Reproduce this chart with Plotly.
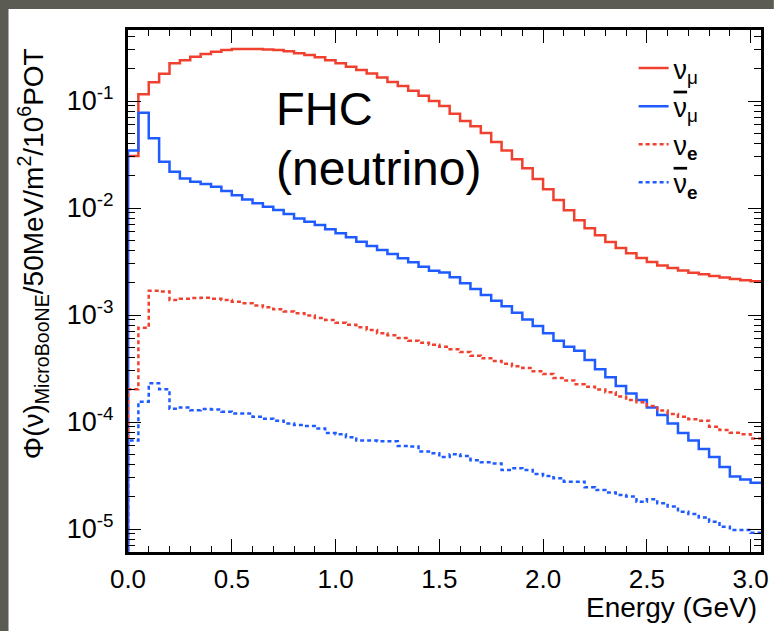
import numpy as np
import plotly.graph_objects as go

# ---- data (50 MeV bins, 0 - 3.05 GeV) ----
bin_width = 0.05
n_bins = 61
edges = [round(i * bin_width, 2) for i in range(n_bins + 1)]

numu = [0.0306, 0.116, 0.150, 0.180, 0.225, 0.241, 0.259, 0.275, 0.289, 0.300,
        0.306, 0.306, 0.306, 0.303, 0.300, 0.292, 0.279, 0.269, 0.256, 0.241,
        0.225, 0.209, 0.195, 0.181, 0.166, 0.151, 0.138, 0.125, 0.112, 0.100,
        0.0898, 0.0761, 0.0650, 0.0580, 0.0502, 0.0414, 0.0345, 0.0285, 0.0235, 0.0187,
        0.0150, 0.0119, 0.00953, 0.00768, 0.00646, 0.00556, 0.00481, 0.00423, 0.00377, 0.00341,
        0.00313, 0.00290, 0.00275, 0.00261, 0.00249, 0.00240, 0.00231, 0.00224, 0.00217, 0.00211,
        0.00207]

numubar = [0.0344, 0.0778, 0.0448, 0.0271, 0.0218, 0.0189, 0.0176, 0.0168, 0.0158, 0.0144,
           0.0132, 0.0120, 0.0111, 0.0103, 0.00958, 0.00879, 0.00800, 0.00745, 0.00693, 0.00632,
           0.00580, 0.00532, 0.00485, 0.00442, 0.00405, 0.00372, 0.00339, 0.00311, 0.00283, 0.00259,
           0.00250, 0.00225, 0.00198, 0.00175, 0.00154, 0.00136, 0.00121, 0.00105, 0.00091, 0.00079,
           0.000674, 0.000575, 0.000506, 0.000464, 0.000380, 0.000311, 0.000262, 0.000217, 0.000185, 0.000161,
           0.000137, 0.000116, 0.000097, 0.000079, 0.000067, 0.000056, 0.000047, 0.000038, 0.000031, 0.000029,
           0.000027]

nue = [0.000202, 0.00076, 0.00169, 0.00166, 0.00138, 0.00142, 0.00144, 0.00145, 0.00142, 0.00138,
       0.00133, 0.00129, 0.00123, 0.00118, 0.00113, 0.00108, 0.00104, 0.00099, 0.00094, 0.000898,
       0.000848, 0.000812, 0.000767, 0.000724, 0.000674, 0.000646, 0.000610, 0.000575, 0.000552, 0.000528,
       0.000506, 0.000479, 0.000451, 0.000417, 0.000394, 0.000372, 0.000351, 0.000332, 0.000320, 0.000298,
       0.000281, 0.000258, 0.000244, 0.000225, 0.000214, 0.000201, 0.000190, 0.000173, 0.000161, 0.000153,
       0.000141, 0.000128, 0.000119, 0.000112, 0.000106, 0.000103, 0.0000905, 0.0000840, 0.0000795, 0.0000770,
       0.0000700]

nuebar = [0.000067, 0.000155, 0.000230, 0.000202, 0.000133, 0.000137, 0.000129, 0.000132, 0.000131, 0.000125,
          0.000120, 0.000120, 0.000112, 0.000107, 0.000103, 0.000097, 0.000094, 0.000092, 0.000087, 0.000079,
          0.000077, 0.000072, 0.000067, 0.000067, 0.000066, 0.000066, 0.0000597, 0.0000590, 0.0000530, 0.0000510,
          0.0000470, 0.0000500, 0.0000480, 0.0000440, 0.0000420, 0.0000410, 0.0000356, 0.0000370, 0.0000356, 0.0000327,
          0.0000313, 0.0000298, 0.0000277, 0.0000277, 0.0000245, 0.0000231, 0.0000219, 0.0000208, 0.0000201, 0.0000180,
          0.0000190, 0.0000174, 0.0000162, 0.0000145, 0.0000138, 0.0000128, 0.0000117, 0.0000105, 0.0000098, 0.0000098,
          0.0000092]

OVER = '<span style="text-decoration:overline">ν</span>'
series_names = ["ν<sub>μ</sub>", OVER + "<sub>μ</sub>", "ν<sub><b>e</b></sub>", OVER + "<sub><b>e</b></sub>"]

y_tick_vals = [1e-5, 1e-4, 1e-3, 1e-2, 1e-1]
y_tick_text = ["10<sup>-5</sup>", "10<sup>-4</sup>", "10<sup>-3</sup>", "10<sup>-2</sup>", "10<sup>-1</sup>"]
x_tick_vals = [0.0, 0.5, 1.0, 1.5, 2.0, 2.5, 3.0]
x_tick_text = ["0.0", "0.5", "1.0", "1.5", "2.0", "2.5", "3.0"]

RED = "#f0402f"
BLUE = "#1f5bff"
GRAY = "#5b5b53"
FONT = "Liberation Sans, Arial, sans-serif"

def step_xy(vals):
    # histogram outline starting from the axis floor at x = 0
    xs = [edges[0]] + edges[:-1] + [edges[-1]]
    ys = [1e-9] + list(vals) + [vals[-1]]
    return xs, ys

fig = go.Figure()
styles = [
    (numu, RED, "solid", 2.5),
    (numubar, BLUE, "solid", 2.5),
    (nue, RED, "4px,3px", 2.5),
    (nuebar, BLUE, "4px,3px", 2.5),
]
for (vals, col, dash, w), name in zip(styles, series_names):
    xs, ys = step_xy(vals)
    fig.add_trace(go.Scatter(x=xs, y=ys, mode="lines", name=name,
                             line=dict(color=col, dash=dash, width=w, shape="hv")))

minor_y = [k * 10.0 ** n for n in range(-6, 0) for k in range(2, 10)]
minor_x = [round(0.1 * i, 1) for i in range(0, 31)]

W, H = 777, 631
L, R, T, B = 128, 8, 30, 79
pw, ph = W - L - R, H - T - B

def px(x):
    return (x - L) / pw

def py(y):
    return 1 - (y - T) / ph

fig.update_layout(
    width=W, height=H,
    margin=dict(l=L, r=R, t=T, b=B, pad=0),
    paper_bgcolor="white",
    plot_bgcolor="white",
    font=dict(family=FONT, color="black", size=26),
    showlegend=True,
    legend=dict(x=px(640), y=py(44), xanchor="left", yanchor="top",
                bgcolor="rgba(0,0,0,0)", font=dict(size=27, family=FONT),
                itemwidth=30, tracegroupgap=0),
    xaxis=dict(range=[0, 3.05], showgrid=False, zeroline=False,
               showline=True, linecolor="black", linewidth=3, mirror="ticks",
               ticks="inside", ticklen=13, tickwidth=1.2, tickcolor="black",
               tickmode="array", tickvals=x_tick_vals, ticktext=x_tick_text,
               tickfont=dict(size=26, family=FONT), ticklabelstandoff=2,
               minor=dict(tickmode="array", tickvals=minor_x, ticks="inside",
                          ticklen=6, tickwidth=1.2, tickcolor="black")),
    yaxis=dict(type="log", range=[-5.215, -0.336], showgrid=False, zeroline=False,
               showline=True, linecolor="black", linewidth=3, mirror="ticks",
               ticks="inside", ticklen=13, tickwidth=1.2, tickcolor="black",
               tickmode="array", tickvals=y_tick_vals, ticktext=y_tick_text,
               tickfont=dict(size=27, family=FONT), ticklabelstandoff=6,
               minor=dict(tickmode="array", tickvals=minor_y, ticks="inside",
                          ticklen=7, tickwidth=1.2, tickcolor="black")),
    shapes=[
        dict(type="rect", xref="paper", yref="paper", layer="above",
             x0=px(-5), x1=px(W + 5), y0=py(9), y1=py(-5),
             fillcolor=GRAY, line=dict(width=0)),
        dict(type="rect", xref="paper", yref="paper", layer="above",
             x0=px(-5), x1=px(7), y0=py(H + 5), y1=py(-5),
             fillcolor=GRAY, line=dict(width=0)),
    ],
    annotations=[
        dict(text="FHC", x=px(276), y=py(109), xref="paper", yref="paper",
             xanchor="left", yanchor="middle", showarrow=False,
             font=dict(size=47, family=FONT)),
        dict(text="(neutrino)", x=px(276), y=py(168), xref="paper", yref="paper",
             xanchor="left", yanchor="middle", showarrow=False,
             font=dict(size=48, family=FONT)),
        dict(text="Φ(ν)<sub>MicroBooNE</sub>/50MeV/m<sup>2</sup>/10<sup>6</sup>POT",
             x=px(32), y=py(254), xref="paper", yref="paper",
             xanchor="center", yanchor="middle", textangle=-90, showarrow=False,
             font=dict(size=28, family=FONT)),
        dict(text="Energy (GeV)", x=px(767), y=py(607), xref="paper", yref="paper",
             xanchor="right", yanchor="middle", showarrow=False,
             font=dict(size=28, family=FONT)),
    ],
)

fig.write_html("out.html")
